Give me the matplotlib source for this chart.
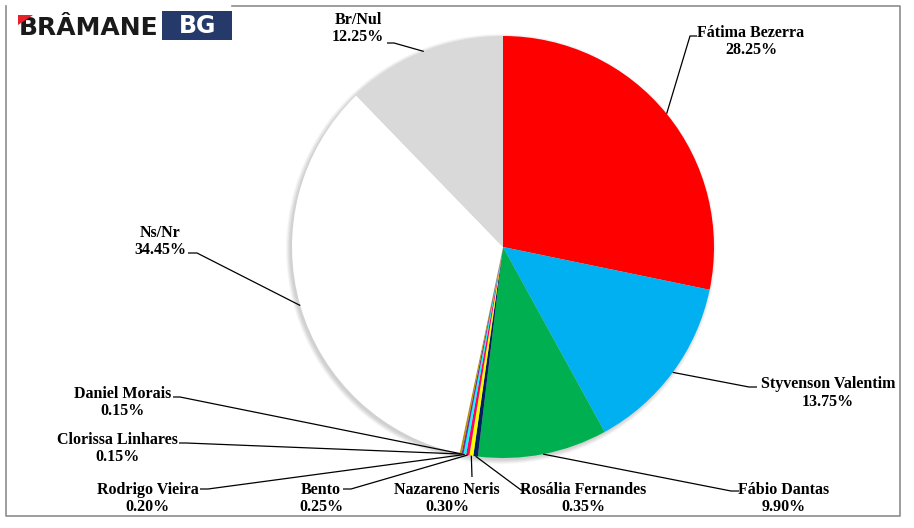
import matplotlib
matplotlib.use("Agg")
import matplotlib.pyplot as plt
import numpy as np
from matplotlib.patches import Circle, Rectangle, Polygon

# ---- data ----
names = ["Fátima Bezerra", "Styvenson Valentim", "Fábio Dantas", "Rosália Fernandes",
         "Nazareno Neris", "Bento", "Rodrigo Vieira", "Clorissa Linhares",
         "Daniel Morais", "Ns/Nr", "Br/Nul"]
values = [28.25, 13.75, 9.90, 0.35, 0.30, 0.25, 0.20, 0.15, 0.15, 34.45, 12.25]
colors = ["#FF0000", "#00B0F0", "#00B050", "#002060", "#FFFF00", "#FF0066",
          "#00FFFF", "#7030A0", "#C09000", "#FFFFFF", "#D9D9D9"]

# ---- layout (pixel positions of label centres and leader-line starts) ----
label_pos = [(751, 41.5), (828, 393), (784, 498.5), (583, 498.5), (447, 498.5),
             (321, 498.5), (147.5, 498.5), (117, 448.5), (122.5, 402.5),
             (160, 241.5), (358, 28.5)]
leader_pts = [[(697, 36), (690, 36)], [(757, 387), (749, 387)], [(739, 491), (731, 491)],
              [(528, 490), (521, 490)], [(472, 477)], [(343, 489), (351, 489)],
              [(200, 489), (208, 489)], [(179, 443), (186, 443)], [(173, 397), (180, 397)],
              [(188, 253), (197, 253)], [(387, 43), (394, 43)]]

W, H = 914, 528
CX, CY, R = 503, 247, 211

def P(px, py):
    return ((px - CX) / R, (CY - py) / R)

fig = plt.figure(figsize=(W / 100, H / 100), dpi=100)
ax = fig.add_axes([0, 0, 1, 1])

# shadow
for i in range(6):
    ax.add_patch(Circle(P(CX - 2, CY + 2), 1 + i * 0.8 / R, color="#000000",
                        alpha=0.03, lw=0, zorder=0))

wedges, _ = ax.pie(values, colors=colors, startangle=90, counterclock=False,
                   radius=1, center=(0, 0), wedgeprops=dict(linewidth=0))
for w in wedges:
    w.set_zorder(2)

ax.set_xlim(-CX / R, (W - CX) / R)
ax.set_ylim(-(H - CY) / R, CY / R)
ax.set_aspect("auto")
ax.set_axis_off()

# labels + leader lines
for w, name, val, lp, pts in zip(wedges, names, values, label_pos, leader_pts):
    ang = np.deg2rad((w.theta1 + w.theta2) / 2)
    end = (np.cos(ang), np.sin(ang))
    xs = [P(*p)[0] for p in pts] + [end[0]]
    ys = [P(*p)[1] for p in pts] + [end[1]]
    ax.plot(xs, ys, color="black", lw=0.9, zorder=3, solid_capstyle="butt")
    tx, ty = P(*lp)
    ax.text(tx, ty, f"{name}\n{val:.2f}%", ha="center", va="center",
            multialignment="center", fontsize=11.5, fontweight="bold",
            family="Liberation Serif", linespacing=1.12, zorder=4)

# border
bx = [232, 900, 900, 6, 6]
by = [6, 6, 516, 516, 6]
ax.plot([P(x, y)[0] for x, y in zip(bx, by)], [P(x, y)[1] for x, y in zip(bx, by)],
        color="#8C8C8C", lw=1.2, zorder=1, clip_on=False)

# logo
ax.text(*P(19, 28), "BRÂMANE", fontsize=18, fontweight="heavy", family="DejaVu Sans",
        color="#1A1A1A", ha="left", va="center", zorder=5)
ax.add_patch(Polygon([P(18, 15), P(33, 15), P(18, 25)], closed=True, color="#E8202A",
                     lw=0, zorder=6))
x0, y0 = P(162, 40)
x1, y1 = P(232, 11)
ax.add_patch(Rectangle((x0, y0), x1 - x0, y1 - y0, color="#253A6B", lw=0, zorder=5))
ax.text(*P(198, 26), "BG", fontsize=17, fontweight="bold", family="DejaVu Sans",
        color="white", ha="center", va="center", zorder=6)

fig.savefig("out.png", dpi=100)
